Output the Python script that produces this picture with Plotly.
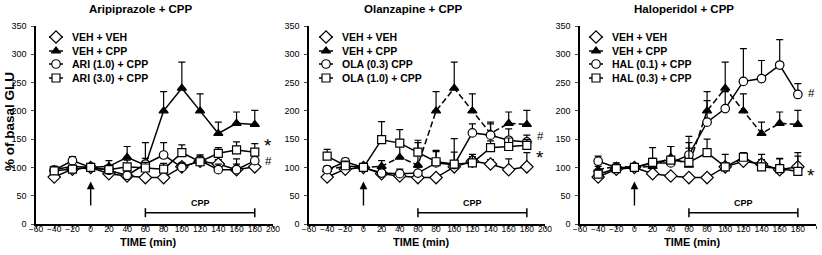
import plotly.graph_objects as go

time = [-40, -20, 0, 20, 40, 60, 80, 100, 120, 140, 160, 180]

# shared control groups
veh_veh = [83, 97, 100, 89, 85, 82, 82, 101, 111, 106, 96, 101]
veh_veh_err = [4, 5, 0, 5, 5, 4, 4, 6, 8, 8, 19, 25]
veh_cpp = [96, 102, 100, 102, 118, 104, 200, 240, 200, 160, 178, 176]
veh_cpp_err = [6, 6, 0, 10, 19, 40, 34, 46, 30, 20, 20, 25]

# Aripiprazole panel
ari1 = [95, 112, 100, 95, 86, 106, 122, 100, 112, 96, 96, 112]
ari1_err = [6, 7, 0, 6, 6, 10, 22, 8, 10, 10, 10, 14]
ari3 = [94, 97, 100, 96, 101, 99, 97, 126, 110, 125, 131, 127]
ari3_err = [8, 6, 0, 8, 12, 10, 10, 14, 12, 10, 14, 15]

# Olanzapine panel
ola03 = [96, 110, 100, 90, 89, 90, 108, 105, 161, 157, 148, 145]
ola03_err = [6, 6, 0, 6, 8, 10, 20, 22, 16, 20, 20, 12]
ola10 = [120, 103, 100, 149, 143, 127, 110, 106, 108, 135, 137, 139]
ola10_err = [12, 8, 0, 32, 24, 21, 20, 45, 15, 12, 15, 10]

# Haloperidol panel
hal01 = [111, 100, 100, 108, 108, 122, 180, 204, 252, 257, 281, 229]
hal01_err = [9, 5, 0, 8, 10, 12, 38, 30, 58, 32, 45, 19]
hal03 = [88, 98, 100, 109, 113, 109, 126, 101, 118, 101, 98, 93]
hal03_err = [6, 6, 0, 26, 24, 46, 24, 22, 8, 22, 18, 27]

titles = ["Aripiprazole + CPP", "Olanzapine + CPP", "Haloperidol + CPP"]
legend_names = [
    ["VEH + VEH", "VEH + CPP", "ARI (1.0) + CPP", "ARI (3.0) + CPP"],
    ["VEH + VEH", "VEH + CPP", "OLA (0.3) CPP", "OLA (1.0) + CPP"],
    ["VEH + VEH", "VEH + CPP", "HAL (0.1) + CPP", "HAL (0.3) + CPP"],
]
drug_series = [(ari1, ari1_err, ari3, ari3_err),
               (ola03, ola03_err, ola10, ola10_err),
               (hal01, hal01_err, hal03, hal03_err)]
sig_marks = [[("*", 145), ("#", 112)], [("#", 155), ("*", 124)], [("#", 232), ("*", 91)]]

x_ticks = list(range(-60, 201, 20))
y_ticks = list(range(0, 351, 50))

# ---- layout constants (pixels) ----
W, H = 822, 255
x_px = [(36, 273), (309, 545), (580, 816)]
Y_TOP, Y_BOT = 26, 224
y_dom = [(H - Y_BOT) / H, (H - Y_TOP) / H]
LEG_ROWS = [37, 51, 64, 78]
LEG_MARK_DX = [20, 17, 16]
LEG_TEXT_DX = [34, 31, 30]

FONT = "Liberation Sans, Arial, sans-serif"
fig = go.Figure()


def err(vals):
    return dict(type="data", array=vals, arrayminus=[0] * len(vals), symmetric=False,
                color="black", thickness=1.2, width=3.5)


def px_x(v):
    return v / W


def px_y(v):
    return (H - v) / H


for p in range(3):
    sfx = "" if p == 0 else str(p + 1)
    xa, ya = "x" + sfx, "y" + sfx
    d1, e1, d2, e2 = drug_series[p]
    names = legend_names[p]
    specs = [
        (veh_veh, veh_veh_err, "diamond", "solid", 9.5),
        (veh_cpp, veh_cpp_err, "triangle-up", "solid" if p == 0 else "6px,3px", 8),
        (d1, e1, "circle", "solid", 8.5),
        (d2, e2, "square", "solid", 8),
    ]
    for (vals, evals, sym, dash, sz), name in zip(specs, names):
        fill = "black" if sym == "triangle-up" else "white"
        fig.add_trace(go.Scatter(
            x=time, y=vals, xaxis=xa, yaxis=ya, name=name,
            mode="lines+markers",
            line=dict(color="black", width=1.5, dash=dash),
            marker=dict(symbol=sym, size=sz, color=fill,
                        line=dict(color="black", width=1.2)),
            error_y=err(evals), showlegend=False,
        ))
    x0, x1 = x_px[p]
    axis_common = dict(ticks="outside", ticklen=3, tickwidth=1.2, showline=True,
                       linecolor="black", linewidth=1.5, showgrid=False, zeroline=False,
                       automargin=False)
    fig.update_layout({
        "xaxis" + sfx: dict(domain=[x0 / W, x1 / W], range=[-60, 200], anchor=ya,
                            tickmode="array", tickvals=x_ticks, ticklabelstandoff=-7,
                            tickfont=dict(size=8.5, family=FONT, color="black"),
                            **axis_common),
        "yaxis" + sfx: dict(domain=y_dom, range=[0, 350], anchor=xa,
                            tickmode="array", tickvals=y_ticks, ticklabelstandoff=3,
                            tickfont=dict(size=9, family=FONT, color="black"),
                            **axis_common),
    })
    # panel title
    fig.add_annotation(text=f"<b>{titles[p]}</b>", xref="paper", yref="paper",
                       x=px_x((x0 + x1) / 2 - 14), y=px_y(9), showarrow=False,
                       font=dict(size=11.5, family=FONT, color="black"),
                       xanchor="center", yanchor="middle")
    # x axis title
    fig.add_annotation(text="<b>TIME (min)</b>", xref="paper", yref="paper",
                       x=px_x((x0 + x1) / 2 - 6), y=px_y(242), showarrow=False,
                       font=dict(size=11, family=FONT, color="black"),
                       xanchor="center", yanchor="middle")
    # injection arrow at t=0
    fig.add_annotation(x=0, y=75, ax=0, ay=30, xref=xa, yref=ya, axref=xa, ayref=ya,
                       showarrow=True, arrowhead=2, arrowsize=1.1, arrowwidth=1.4,
                       arrowcolor="black", text="")
    # CPP bar
    fig.add_shape(type="line", xref=xa, yref=ya, x0=60, x1=180, y0=20, y1=20,
                  line=dict(color="black", width=1.5))
    for xe in (60, 180):
        fig.add_shape(type="line", xref=xa, yref=ya, x0=xe, x1=xe, y0=12, y1=28,
                      line=dict(color="black", width=1.5))
    fig.add_annotation(text="<b>CPP</b>", x=120, y=37, xref=xa, yref=ya, showarrow=False,
                       font=dict(size=9, family=FONT, color="black"))
    for s, yv in sig_marks[p]:
        fig.add_annotation(text=s, x=195, y=yv - (6 if s == "*" else 0), xref=xa, yref=ya,
                           showarrow=False, xanchor="center", yanchor="middle",
                           font=dict(size=19 if s == "*" else 11.5, family=FONT, color="black"))
    # manual legend (swatches on a pixel-unit axis spanning the figure)
    for r, ((vals, evals, sym, dash, sz), name) in enumerate(zip(specs, names)):
        cx = x0 + LEG_MARK_DX[p]
        cy = LEG_ROWS[r]
        fill = "black" if sym == "triangle-up" else "white"
        fig.add_trace(go.Scatter(
            x=[cx - 7, cx + 7], y=[cy, cy], xaxis="x4", yaxis="y4", mode="lines",
            line=dict(color="black", width=1.5), showlegend=False, hoverinfo="skip"))
        fig.add_trace(go.Scatter(
            x=[cx], y=[cy], xaxis="x4", yaxis="y4", mode="markers",
            marker=dict(symbol=sym, size=sz, color=fill, line=dict(color="black", width=1.2)),
            showlegend=False, hoverinfo="skip"))
        fig.add_annotation(text=f"<b>{name}</b>", xref="paper", yref="paper",
                           x=px_x(x0 + LEG_TEXT_DX[p]), y=px_y(cy), xanchor="left",
                           yanchor="middle", showarrow=False,
                           font=dict(size=10.5, family=FONT, color="black"))

# y axis title (first panel only)
fig.add_annotation(text="<b>% of basal GLU</b>", xref="paper", yref="paper",
                   x=px_x(10), y=px_y((Y_TOP + Y_BOT) / 2 - 3), textangle=-90, showarrow=False,
                   font=dict(size=13.5, family=FONT, color="black"),
                   xanchor="center", yanchor="middle")

fig.update_layout(
    width=W, height=H, margin=dict(l=0, r=0, t=0, b=0),
    plot_bgcolor="rgba(0,0,0,0)", paper_bgcolor="white", showlegend=False,
    xaxis4=dict(domain=[0, 1], range=[0, W], visible=False, anchor="y4", fixedrange=True),
    yaxis4=dict(domain=[0, 1], range=[H, 0], visible=False, anchor="x4", fixedrange=True),
)
fig.write_html("out.html", config={"displayModeBar": False},
               post_script="document.body.style.margin='0';")
